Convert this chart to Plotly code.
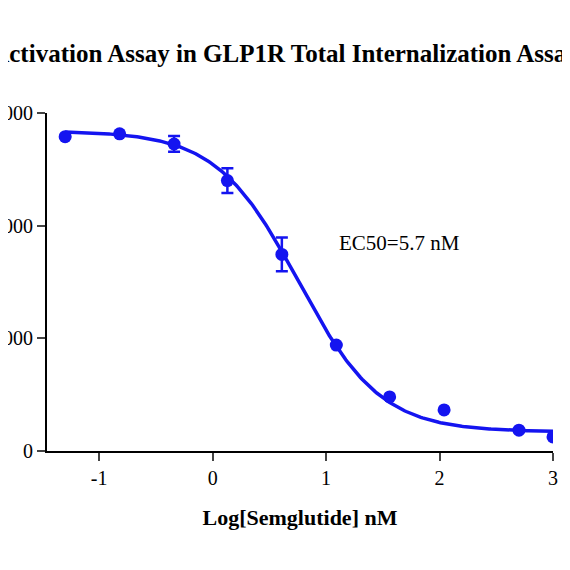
import numpy as np
import plotly.graph_objects as go

log_conc = [-1.30, -0.82, -0.34, 0.13, 0.61, 1.09, 1.56, 2.04, 2.70, 3.00]
signal = [2790, 2815, 2725, 2400, 1745, 940, 480, 365, 185, 125]
err = [0, 0, 70, 110, 150, 0, 0, 0, 0, 0]
x_ticks = [-1, 0, 1, 2, 3]
x_ticktext = ["-1", "0", "1", "2", "3"]
y_ticks = [0, 1000, 2000, 3000]

# 4PL fit parameters (from the reference)
top, bottom, log_ec50, hill = 2840, 170, 0.756, 1.2
xc = np.linspace(-1.3, 3.0, 300)
yc = bottom + (top - bottom) / (1 + 10 ** ((xc - log_ec50) * hill))

blue = "#1414f0"
fig = go.Figure()
fig.add_trace(go.Scatter(x=xc, y=yc, mode="lines", line=dict(color=blue, width=3.5), hoverinfo="skip"))
fig.add_trace(go.Scatter(x=log_conc, y=signal, mode="markers",
                         marker=dict(color=blue, size=13),
                         error_y=dict(type="data", array=err, color=blue, thickness=2.5, width=6)))
fig.add_annotation(x=1.1, y=1850, text="EC50=5.7 nM", showarrow=False, xanchor="left",
                   font=dict(family="Liberation Serif", size=21, color="black"))
fig.update_layout(
    width=554, height=554, showlegend=False,
    plot_bgcolor="white", paper_bgcolor="white",
    margin=dict(l=39, r=9, t=105, b=111, autoexpand=False),
    title=dict(text="Activation Assay in GLP1R Total Internalization Assay", x=0.5, xanchor="center", y=0.935,
               font=dict(family="Liberation Serif", size=25, color="black", weight="bold")),
    font=dict(family="Liberation Serif", size=20, color="black"),
)
fig.update_xaxes(range=[-1.46, 3.0], tickvals=x_ticks, ticktext=x_ticktext, showgrid=False, zeroline=False,
                 showline=True, linecolor="black", linewidth=2, ticks="outside", ticklen=8, tickwidth=2,
                 title=dict(text="<b>Log[Semglutide] nM</b>", font=dict(size=22), standoff=22), automargin=False)
fig.update_yaxes(range=[0, 3000], tickvals=y_ticks, showgrid=False, zeroline=False,
                 showline=True, linecolor="black", linewidth=2, ticks="outside", ticklen=8, tickwidth=2,
                 automargin=False)
fig.write_html("out.html")
